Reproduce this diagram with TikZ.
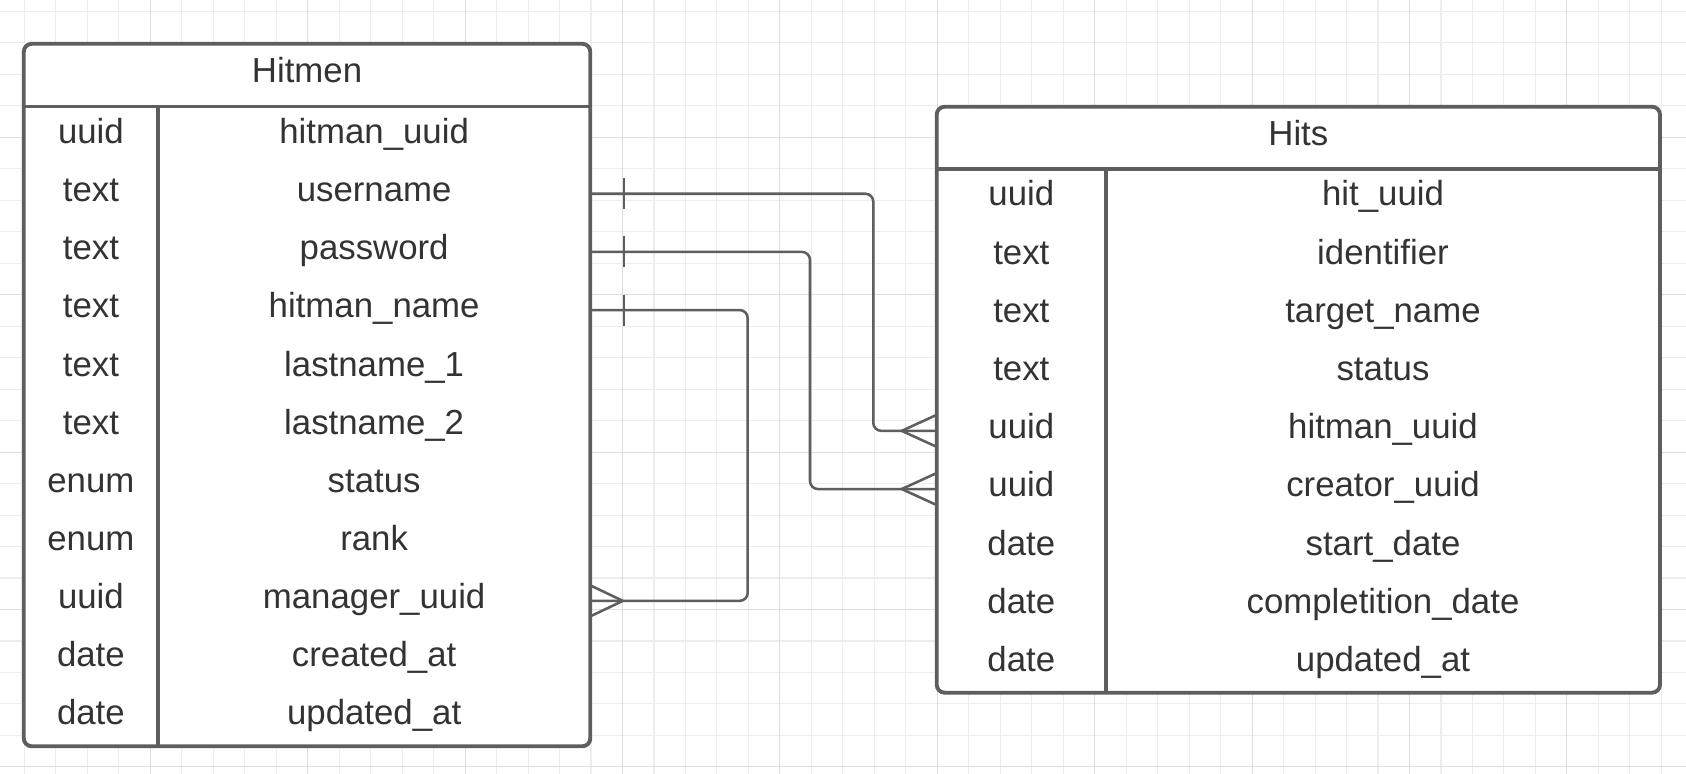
\documentclass[tikz,border=0pt]{standalone}
\usepackage{fontspec}
\setmainfont{Liberation Sans}
\usetikzlibrary{fit}
\definecolor{ink}{HTML}{333333}
\definecolor{edge}{HTML}{5E5E5E}
\definecolor{gridminor}{HTML}{EDEDED}
\definecolor{gridmajor}{HTML}{DEDEDE}

\begin{document}
\begin{tikzpicture}[x=0.75pt,y=-0.75pt,
  every node/.style={font=\fontsize{26.1}{31}\selectfont, text=ink, inner sep=0pt, outer sep=0pt},
  cell/.style={minimum height=43.62pt, text height=18pt, text depth=6.3pt, align=center},
  frame/.style={draw=edge, line width=2.9pt, rounded corners=6pt, fill=white, inner sep=0pt},
  rule/.style={draw=edge, line width=2.9pt},
  conn/.style={draw=edge, line width=1.9pt},
  route/.style={conn, rounded corners=6pt},
  minorline/.style={draw=gridminor, line width=0.8pt},
  majorline/.style={draw=gridmajor, line width=0.8pt}]

\useasboundingbox (0,0) rectangle (1686,774);
\fill[white] (0,0) rectangle (1686,774);

% background grid
\begin{scope}
  \clip (0,0) rectangle (1686,774);
  \foreach \k in {-4,...,48} \draw[minorline] ({150.3+31.48*\k},0) -- ++(0,774);
  \foreach \k in {-4,...,20} \draw[minorline] (0,{137.3+31.48*\k}) -- ++(1686,0);
  \foreach \k in {0,...,9} \draw[majorline] ({150.3+157.4*\k},0) -- ++(0,774);
  \foreach \k in {0,...,4} \draw[majorline] (0,{137.3+157.4*\k}) -- ++(1686,0);
\end{scope}

% ---------- Hitmen table ----------
\node[frame, fit={(23.8,43.8) (590.3,746.3)}] (hitmen) {};
\node[cell] (hitmen-title) at (307.05,75.15) {Hitmen};
\foreach \t/\n [count=\i from 0] in {uuid/hitman\_uuid, text/username, text/password,
    text/hitman\_name, text/lastname\_1, text/lastname\_2, enum/status, enum/rank,
    uuid/manager\_uuid, date/created\_at, date/updated\_at} {
  \pgfmathsetmacro\ry{106.5+58.16*(\i+0.5)}
  \node[cell, minimum width=100.65pt] (hm-t-\i) at (90.9,\ry) {\t};
  \node[cell, minimum width=324.2pt] (hm-n-\i) at (374.15,\ry) {\n};
}
\draw[rule] (hitmen.west |- hm-t-0.north) -- (hitmen.east |- hm-t-0.north);
\draw[rule] (hm-t-0.north east) -- (hm-t-10.south east);

% ---------- Hits table ----------
\node[frame, fit={(936.7,106.7) (1660,692.7)}] (hits) {};
\node[cell] (hits-title) at (1298.35,137.85) {Hits};
\foreach \t/\n [count=\i from 0] in {uuid/hit\_uuid, text/identifier, text/target\_name,
    text/status, uuid/hitman\_uuid, uuid/creator\_uuid, date/start\_date,
    date/completition\_date, date/updated\_at} {
  \pgfmathsetmacro\ry{169+58.19*(\i+0.5)}
  \node[cell, minimum width=127pt] (hs-t-\i) at (1021.35,\ry) {\t};
  \node[cell, minimum width=415.5pt] (hs-n-\i) at (1383,\ry) {\n};
}
\draw[rule] (hits.west |- hs-t-0.north) -- (hits.east |- hs-t-0.north);
\draw[rule] (hs-t-0.north east) -- (hs-t-8.south east);

% ---------- relationships ----------
\coordinate (via1) at (873.3,0);
\coordinate (via2) at (810,0);
\coordinate (via3) at (747.7,0);

% username -> Hits.hitman_uuid
\draw[route] (hm-n-1.east) -- (via1 |- hm-n-1.east) -- (via1 |- hs-t-4.west) -- (hs-t-4.west);
\draw[conn] (hm-n-1.east) ++(33.6,-15.5) -- ++(0,31);
\draw[conn] (hs-t-4.west) ++(0,-16) -- ++(-35,16) -- ++(35,16);

% password -> Hits.creator_uuid
\draw[route] (hm-n-2.east) -- (via2 |- hm-n-2.east) -- (via2 |- hs-t-5.west) -- (hs-t-5.west);
\draw[conn] (hm-n-2.east) ++(33.6,-15.5) -- ++(0,31);
\draw[conn] (hs-t-5.west) ++(0,-16) -- ++(-35,16) -- ++(35,16);

% hitman_name -> Hitmen.manager_uuid
\draw[route] (hm-n-3.east) -- (via3 |- hm-n-3.east) -- (via3 |- hm-n-8.east) -- (hm-n-8.east);
\draw[conn] (hm-n-3.east) ++(33.6,-15.5) -- ++(0,31);
\draw[conn] (hm-n-8.east) ++(0,-15.5) -- ++(32.6,15.5) -- ++(-32.6,15.5);

\end{tikzpicture}
\end{document}
